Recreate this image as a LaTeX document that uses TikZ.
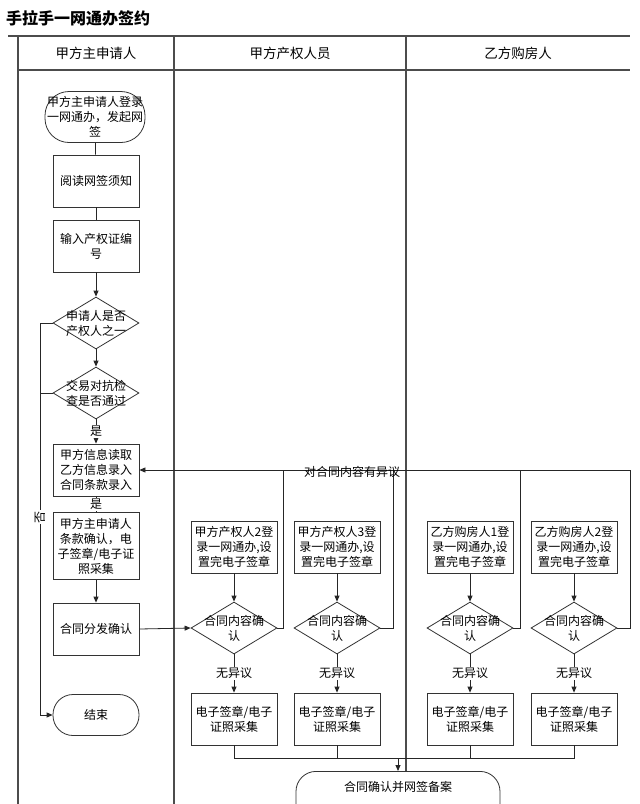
\documentclass[tikz,border=0pt]{standalone}
\usepackage{fontspec}
\newfontfamily\cjk{Noto Sans CJK SC}
\usetikzlibrary{shapes.geometric,arrows.meta}
\begin{document}
\begin{tikzpicture}[x=1pt,y=-1pt,
  every node/.style={font=\cjk\fontsize{12}{15}\selectfont},
  ln/.style={draw=black!85, line width=0.8pt},
  arr/.style={ln, -{Triangle[length=6pt,width=5pt]}},
  box/.style={draw=black!80, line width=0.8pt, fill=white, minimum width=86pt, minimum height=52pt, align=center, inner sep=0pt},
  dia/.style={draw=black!80, line width=0.8pt, fill=white, diamond, minimum width=86pt, minimum height=52pt, inner sep=0pt},
  dtext/.style={align=center, inner sep=0pt},
  term/.style={draw=black!80, line width=0.8pt, fill=white, rounded corners=20pt, align=center, inner sep=0pt},
  lane/.style={draw=black!70, line width=1.2pt},
  lbl/.style={fill=white, inner sep=1pt}
]
\useasboundingbox (0,0) rectangle (640,804);
\fill[white] (0,0) rectangle (640,804);
\clip (0,0) rectangle (640,804);

% title
\node[anchor=west, font=\cjk\bfseries\fontsize{16}{16}\selectfont, inner sep=0pt] (title) at (6,18) {手拉手一网通办签约};

% lanes
\draw[lane] (8,36) -- (630,36);
\draw[lane] (18,70) -- (630,70);
\draw[lane] (18,36) -- (18,804);
\draw[lane] (174,36) -- (174,804);
\draw[lane] (406,36) -- (406,804);
\node[font=\cjk\fontsize{13.5}{15}\selectfont] (h1) at (96,53) {甲方主申请人};
\node[font=\cjk\fontsize{13.5}{15}\selectfont] (h2) at (290,53) {甲方产权人员};
\node[font=\cjk\fontsize{13.5}{15}\selectfont] (h3) at (518,53) {乙方购房人};

% lane 1
\node[term, rounded corners=24pt, minimum width=100pt, minimum height=51pt] (s) at (95,117) {甲方主申请人登录\\一网通办，发起网\\签};
\node[box] (b1) at (96,181) {阅读网签须知};
\node[box] (b2) at (96,246) {输入产权证编\\号};
\node[dia] (d1) at (96,323) {};
\node[dtext] (d1t) at (96,323) {申请人是否\\产权人之一};
\node[dia] (d2) at (96,393) {};
\node[dtext] (d2t) at (96,393) {交易对抗检\\查是否通过};
\node[box] (b3) at (96,470) {甲方信息读取\\乙方信息录入\\合同条款录入};
\node[box, minimum height=67pt] (b4) at (96,546) {甲方主申请人\\条款确认，电\\子签章/电子证\\照采集};
\node[box] (b5) at (96,629) {合同分发确认};
\node[term, minimum width=86pt, minimum height=41pt] (end) at (96,715) {结束};

\draw[ln] (s) -- (b1);
\draw[ln] (b1) -- (b2);
\draw[arr] (b2) -- (d1);
\draw[arr] (d1) -- (d2);
\draw[arr] (d2) -- node[lbl] (y1) {是} (b3);
\draw[ln] (b3) -- node[lbl] (y2) {是} (b4);
\draw[arr] (b4) -- (b5);

\coordinate (n1) at (40,323);
\coordinate (n2) at (40,393);
\coordinate (n3) at (40,715);
\draw[ln] (d1.west) -- (n1) -- (n3);
\draw[arr] (n3) -- (end.west);
\draw[ln] (d2.west) -- (n2);
\node[lbl, rotate=90] (no) at (40,517) {否};

% lanes 2 and 3
\foreach \i/\x/\t in {1/234/甲方产权人2登,2/337/甲方产权人3登,3/470/乙方购房人1登,4/574/乙方购房人2登}{
  \node[box] (p\i) at (\x,547) {\t\\录一网通办,设\\置完电子签章};
  \node[dia] (c\i) at (\x,628) {};
  \node[dtext] (c\i t) at (\x,628) {合同内容确\\认};
  \node[box] (e\i) at (\x,719) {电子签章/电子\\证照采集};
  \draw[arr] (p\i) -- (c\i);
  \draw[arr] (c\i) -- node[lbl] (w\i) {无异议} (e\i);
}

\draw[arr] (b5.east) -- (c1.west);

% feedback
\coordinate (f1) at (283,470);
\coordinate (f2) at (393,470);
\coordinate (f3) at (520,470);
\coordinate (f4) at (630,470);
\draw[ln] (c1.east) -| (f1);
\draw[ln] (c2.east) -| (f2);
\draw[ln] (c3.east) -| (f3);
\draw[ln] (c4.east) -| (f4);
\draw[arr] (f4) -- (b3.east);
\node (obj) at (352,472) {对合同内容有异议};

% collector and final
\coordinate (jy) at (0,758);
\node[term, minimum width=204pt, minimum height=60pt, anchor=north] (fin) at (398,771) {};
\node (fint) at (398,787) {合同确认并网签备案};
\draw[ln] (e1.south) -- (e1.south |- jy) -- (e4.south |- jy) -- (e4.south);
\draw[ln] (e2.south) -- (e2.south |- jy);
\draw[ln] (e3.south) -- (e3.south |- jy);
\draw[arr] (fin.north |- jy) -- (fin.north);
\end{tikzpicture}
\end{document}
